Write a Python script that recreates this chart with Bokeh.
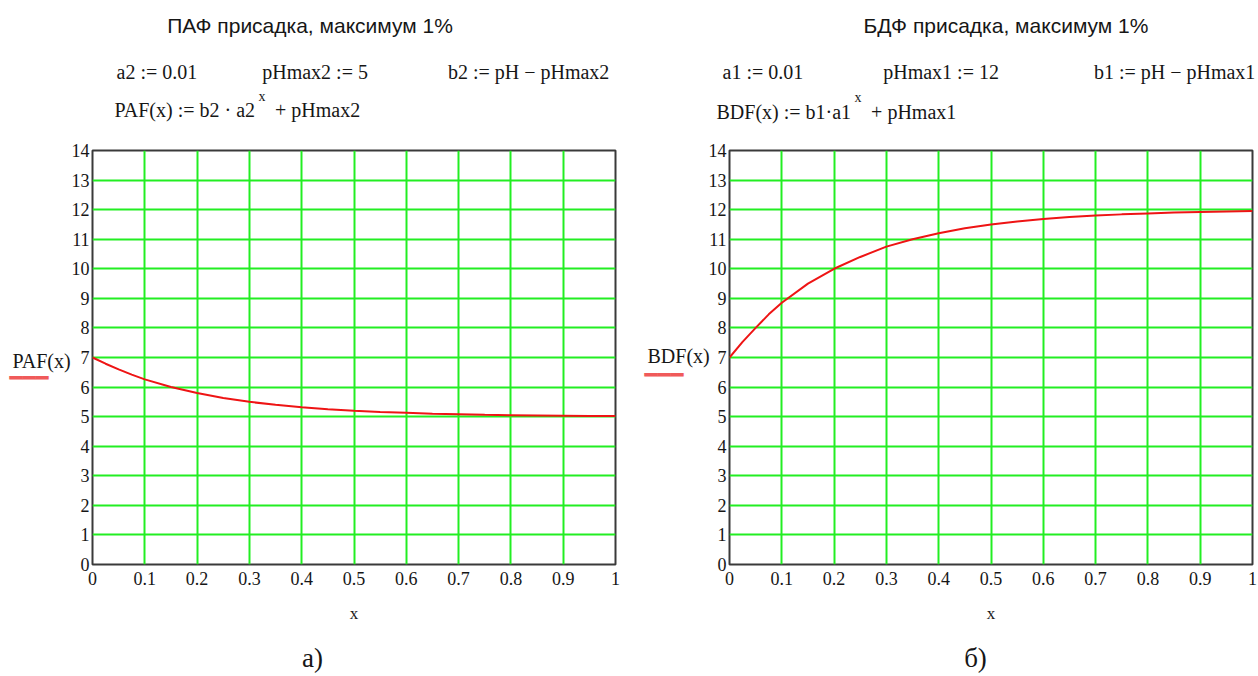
from bokeh.plotting import figure
from bokeh.models import Label, FixedTicker, Range1d
from bokeh.layouts import row
from bokeh.embed import file_html
from bokeh.resources import INLINE

# ---- data ----
x_values = [0.0, 0.025, 0.05, 0.075, 0.1, 0.15, 0.2, 0.25, 0.3, 0.35, 0.4, 0.45, 0.5,
            0.55, 0.6, 0.65, 0.7, 0.75, 0.8, 0.85, 0.9, 0.95, 1.0]
paf_values = [7.0, 6.79, 6.6, 6.42, 6.26, 6.0, 5.8, 5.63, 5.5, 5.4, 5.32, 5.25, 5.2,
              5.16, 5.13, 5.1, 5.08, 5.06, 5.05, 5.04, 5.03, 5.02, 5.02]
bdf_values = [7.0, 7.53, 8.0, 8.46, 8.85, 9.5, 10.0, 10.4, 10.75, 11.0, 11.2, 11.37, 11.5,
              11.6, 11.68, 11.75, 11.8, 11.84, 11.87, 11.9, 11.92, 11.94, 11.95]
x_ticks = [0, 0.1, 0.2, 0.3, 0.4, 0.5, 0.6, 0.7, 0.8, 0.9, 1]
x_tick_labels = ["0", "0.1", "0.2", "0.3", "0.4", "0.5", "0.6", "0.7", "0.8", "0.9", "1"]
y_ticks = [0, 1, 2, 3, 4, 5, 6, 7, 8, 9, 10, 11, 12, 13, 14]

titles = ["ПАФ присадка, максимум 1%", "БДФ присадка, максимум 1%"]
y_labels = ["PAF(x)", "BDF(x)"]
captions = ["а)", "б)"]

GRID = "#22ee22"
CURVE = "#ee1414"
TXT = "#161616"
SERIF = "Liberation Serif"
SANS = "Liberation Sans"
NB = "\u00a0"

# layout (page pixels)
PAGE_H = 676
FRAME_TOP = 150
FRAME_H = 414
FRAME_W = 523
FRAME_BOTTOM = FRAME_TOP + FRAME_H


def make_panel(width, offset_x, frame_left, ys):
    bl = frame_left - offset_x
    br = width - bl - FRAME_W
    p = figure(width=width, height=PAGE_H, output_backend="svg", toolbar_location=None,
               x_range=Range1d(0, 1), y_range=Range1d(0, 14),
               min_border_left=bl, min_border_right=br,
               min_border_top=FRAME_TOP, min_border_bottom=PAGE_H - FRAME_BOTTOM)
    p.background_fill_color = "white"
    p.border_fill_color = "white"
    p.outline_line_color = "#3a3a3a"
    p.outline_line_width = 2
    p.xgrid.ticker = FixedTicker(ticks=x_ticks)
    p.ygrid.ticker = FixedTicker(ticks=y_ticks)
    for g in (p.xgrid, p.ygrid):
        g.grid_line_color = GRID
        g.grid_line_width = 2
        g.grid_line_alpha = 1.0
    p.xaxis.ticker = FixedTicker(ticks=x_ticks)
    p.xaxis.major_label_overrides = {t: s for t, s in zip(x_ticks, x_tick_labels)}
    p.yaxis.ticker = FixedTicker(ticks=y_ticks)
    for ax in (p.xaxis, p.yaxis):
        ax.axis_line_color = None
        ax.major_tick_line_color = None
        ax.minor_tick_line_color = None
        ax.major_tick_out = 0
        ax.major_tick_in = 0
        ax.major_label_text_font = SERIF
        ax.major_label_text_font_size = "18px"
        ax.major_label_text_color = TXT
    p.yaxis.major_label_standoff = 3
    p.xaxis.major_label_standoff = 7
    p.xaxis.axis_label = "x"
    p.xaxis.axis_label_text_font = SERIF
    p.xaxis.axis_label_text_font_size = "17px"
    p.xaxis.axis_label_text_font_style = "normal"
    p.xaxis.axis_label_text_color = TXT
    p.xaxis.axis_label_standoff = 16
    p.line(x_values, ys, line_color=CURVE, line_width=2)
    return p


def add_text(p, frame_left, X, Y, text, side="above", size=20, font=SERIF,
             align="left", color=TXT, mid_ratio=0.3375):
    # X = page x of the anchor, Y = page y of the text baseline.
    # Converted to the panel's data space so the text can sit outside the frame;
    # drawn with a "middle" baseline placed mid_ratio*size above the baseline.
    ym = Y - mid_ratio * size
    xd = (X - frame_left) / FRAME_W
    yd = (FRAME_BOTTOM - ym) / FRAME_H * 14
    p.add_layout(Label(x=xd, y=yd, text=text, text_font=font, text_font_size=f"{size}px",
                       text_color=color, text_align=align, text_baseline="middle"), side)


def add_rule(p, frame_left, X, Y):
    xd = (X - frame_left) / FRAME_W
    yd = (FRAME_BOTTOM - Y) / FRAME_H * 14
    p.add_layout(Label(x=xd, y=yd, text="\u2501\u2501\u2501", text_font="DejaVu Sans Mono",
                       text_font_size="21.6px", text_color="#f05a5a",
                       text_align="left", text_baseline="middle"), "above")


MINUS = NB + "\u2212" + NB

# ---------- left panel (a) ----------
FL = 92
left = make_panel(636, 0, FL, paf_values)
add_text(left, FL, 309.5, 32, titles[0], size=21, font=SANS, align="center", mid_ratio=0.3465)
add_text(left, FL, 116, 78, "a2 := 0.01" + NB * 13 + "pHmax2 := 5" + NB * 16 + "b2 := pH" + MINUS + "pHmax2")
add_text(left, FL, 114, 116, "PAF(x) := b2" + NB + "·" + NB + "a2" + NB * 4 + "+ pHmax2")
add_text(left, FL, 258, 101, "x", size=14)
add_rule(left, FL, 9, 377)
add_text(left, FL, 12, 367, y_labels[0], side="left")
add_text(left, FL, 312, 667, captions[0], side="below", size=27, align="center")

# ---------- right panel (б) ----------
FR = 729
right = make_panel(622, 636, FR, bdf_values)
add_text(right, FR, 1005.5, 32, titles[1], size=21, font=SANS, align="center", mid_ratio=0.3465)
add_text(right, FR, 722, 78, "a1 := 0.01" + NB * 16 + "pHmax1 := 12" + NB * 19 + "b1 := pH" + MINUS + "pHmax1")
add_text(right, FR, 716, 118, "BDF(x) := b1·a1" + NB * 4 + "+ pHmax1")
add_text(right, FR, 854, 102, "x", size=14)
add_rule(right, FR, 644, 374)
add_text(right, FR, 647, 362, y_labels[1], side="left")
add_text(right, FR, 975, 667, captions[1], side="below", size=27, align="center")

layout = row(left, right)
open("out.html", "w").write(file_html(layout, INLINE))
